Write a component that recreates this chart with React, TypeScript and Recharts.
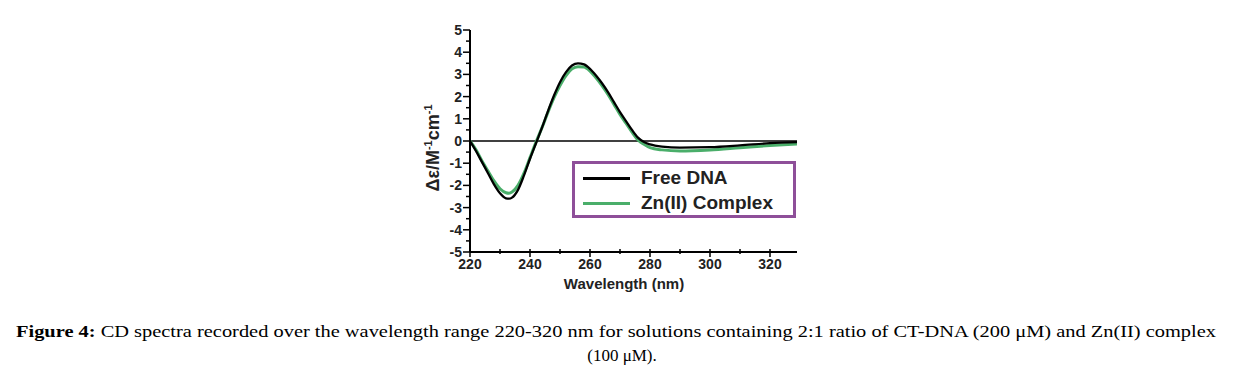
import React from 'react';
import { LineChart, Line, XAxis, YAxis, ReferenceLine } from 'recharts';

const wavelength = [220, 222, 224, 226, 228, 230, 232, 233, 234, 236, 238, 240, 242, 244, 246, 248, 250, 252, 254, 256, 258, 260, 262, 264, 266, 268, 270, 272, 274, 276, 278, 280, 284, 290, 300, 310, 320, 329];
const freeDna = [0, -0.45, -0.95, -1.45, -1.95, -2.35, -2.58, -2.6, -2.55, -2.2, -1.55, -0.8, -0.1, 0.6, 1.35, 2.05, 2.65, 3.1, 3.4, 3.5, 3.45, 3.25, 2.95, 2.6, 2.2, 1.75, 1.3, 0.9, 0.5, 0.15, -0.05, -0.15, -0.25, -0.3, -0.28, -0.2, -0.1, -0.05];
const znComplex = [0, -0.4, -0.9, -1.35, -1.8, -2.15, -2.33, -2.35, -2.3, -2.0, -1.45, -0.75, -0.05, 0.6, 1.3, 1.95, 2.5, 2.95, 3.25, 3.35, 3.33, 3.15, 2.85, 2.5, 2.1, 1.65, 1.2, 0.8, 0.4, 0.05, -0.15, -0.3, -0.4, -0.45, -0.4, -0.3, -0.2, -0.13];

const xTicks = [220, 230, 240, 250, 260, 270, 280, 290, 300, 310, 320];
const yTicks = [-5, -4.5, -4, -3.5, -3, -2.5, -2, -1.5, -1, -0.5, 0, 0.5, 1, 1.5, 2, 2.5, 3, 3.5, 4, 4.5, 5];

const seriesNames = ['Free DNA', 'Zn(II) Complex'];
const seriesColors = ['#000000', '#4aae6a'];

const data = wavelength.map((w, i) => ({ w, free: freeDna[i], zn: znComplex[i] }));

const sans = "'Liberation Sans', Arial, sans-serif";
const serif = "'Liberation Serif', 'Times New Roman', serif";
const tickFont = { fontFamily: sans, fontWeight: 700, fontSize: 14, fill: '#222' };

const YTick = (props: any) => {
  const { x, y, payload } = props;
  const major = Number.isInteger(payload.value);
  return (
    <g>
      <line x1={x - (major ? 7 : 4)} x2={x} y1={y} y2={y} stroke="#000" strokeWidth={1.5} />
      {major && (
        <text x={x - 8} y={y} dy={5} textAnchor="end" {...tickFont}>
          {payload.value}
        </text>
      )}
    </g>
  );
};

const XTick = (props: any) => {
  const { x, y, payload } = props;
  const major = payload.value % 20 === 0;
  return (
    <g>
      <line x1={x} x2={x} y1={y - 3} y2={y + (major ? 5 : 2)} stroke="#000" strokeWidth={1.5} />
      {major && (
        <text x={x} y={y} dy={17} textAnchor="middle" {...tickFont}>
          {payload.value}
        </text>
      )}
    </g>
  );
};

const LegendBox = () => (
  <div
    style={{
      position: 'absolute',
      left: 572,
      top: 161,
      width: 218,
      height: 51,
      border: '3px solid #8e4f99',
      background: '#fff',
      fontFamily: sans,
      fontWeight: 700,
      fontSize: 19,
      color: '#222',
    }}
  >
    {seriesNames.map((n, i) => (
      <div key={n} style={{ position: 'absolute', left: 8, top: 3 + i * 25, height: 22, display: 'flex', alignItems: 'center', whiteSpace: 'nowrap' }}>
        <div style={{ width: 47, height: 3, background: seriesColors[i], marginRight: 11 }} />
        <span>{n}</span>
      </div>
    ))}
  </div>
);

export default function App() {
  return (
    <div style={{ position: 'absolute', left: 0, top: 0, width: 1251, height: 376, background: '#fff' }}>
      <LineChart width={1251} height={300} data={data} margin={{ top: 30, right: 454, bottom: 8, left: 430 }}>
        <XAxis
          dataKey="w"
          type="number"
          domain={[220, 329]}
          ticks={xTicks}
          interval={0}
          allowDataOverflow
          height={40}
          tickSize={0}
          tickMargin={0}
          tickLine={false}
          tick={<XTick />}
          axisLine={{ stroke: '#000', strokeWidth: 2 }}
        />
        <YAxis
          type="number"
          domain={[-5, 5]}
          ticks={yTicks}
          interval={0}
          width={40}
          tickSize={0}
          tickMargin={0}
          tickLine={false}
          tick={<YTick />}
          axisLine={{ stroke: '#000', strokeWidth: 2 }}
        />
        <ReferenceLine y={0} stroke="#000" strokeWidth={1.6} strokeOpacity={1} />
        <Line dataKey="zn" type="monotone" stroke={seriesColors[1]} strokeWidth={3} dot={false} isAnimationActive={false} />
        <Line dataKey="free" type="monotone" stroke={seriesColors[0]} strokeWidth={2.3} dot={false} isAnimationActive={false} />
      </LineChart>
      <LegendBox />
      <svg width={1251} height={376} style={{ position: 'absolute', left: 0, top: 0, pointerEvents: 'none' }}>
        <text transform="translate(439,148) rotate(-90)" textAnchor="middle" fontFamily={sans} fontWeight={700} fontSize={18} fill="#222">
          Δε/M<tspan fontSize={11} dy={-7}>-1</tspan>
          <tspan dy={7}>cm</tspan>
          <tspan fontSize={11} dy={-7}>-1</tspan>
        </text>
        <text x={624} y={289} textAnchor="middle" fontFamily={sans} fontWeight={700} fontSize={15} fill="#222">
          Wavelength (nm)
        </text>
        <text x={16} y={337} textLength={1200} lengthAdjust="spacingAndGlyphs" fontFamily={serif} fontSize={17} fill="#000">
          <tspan fontWeight={700}>Figure 4:</tspan> CD spectra recorded over the wavelength range 220-320 nm for solutions containing 2:1 ratio of CT-DNA (200 μM) and Zn(II) complex
        </text>
        <text x={622} y={361} textAnchor="middle" fontFamily={serif} fontSize={17} fill="#000">
          (100 μM).
        </text>
      </svg>
    </div>
  );
}
